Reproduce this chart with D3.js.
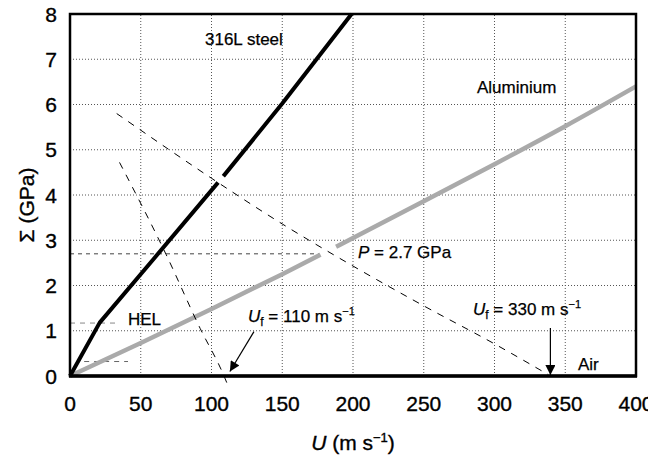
<!DOCTYPE html>
<html><head><meta charset="utf-8">
<script src="https://cdn.jsdelivr.net/npm/d3@7"></script>
<style>
html,body{margin:0;padding:0;background:#fff;}
svg{display:block;font-family:"Liberation Sans",Arial,Helvetica,sans-serif;}
</style></head>
<body>
<svg id="chart" width="648" height="455"></svg>
<script>
// ---- data ----
const uTicks = [0, 50, 100, 150, 200, 250, 300, 350, 400];
const sTicks = [0, 1, 2, 3, 4, 5, 6, 7, 8];

// 316L steel Hugoniot (elastic precursor to HEL, then plastic)
const steelU = [0, 21, 60, 108, 150, 199];
const steelS = [0, 1.18, 2.62, 4.4, 6.02, 8];

// Aluminium Hugoniot
const aluU = [0, 50, 100, 150, 200, 250, 300, 350, 400];
const aluS = [0, 0.73, 1.48, 2.25, 3.05, 3.86, 4.68, 5.52, 6.4];

// Reflected flyer Hugoniot, Uf = 330 m/s
const f330U = [33, 100, 150, 200, 250, 300, 338];
const f330S = [5.8, 4.37, 3.36, 2.43, 1.55, 0.71, 0.03];

// Reflected flyer Hugoniot, Uf = 110 m/s
const f110U = [35, 68, 92, 108, 111.5];
const f110S = [4.72, 2.68, 1.05, 0.06, -0.2];

// reference levels: [Σ, U start, U end]
const pLevel = [2.7, 0, 181];
const helLevel = [1.17, 0, 35];
const lowLevel = [0.32, 10, 41];

// white breaks in the solid lines where the dashed curves cross [U start, U end]
const steelBreak = [104.6, 108.4];
const aluBreak = [177, 188];

// arrows: [U from, Σ from, U to, Σ to]
const arrow110 = [130, 0.98, 113, 0.1];
const arrow330 = [339.5, 1.06, 339.5, 0.02];

// ---- layout ----
const W = 648, H = 455;
const m = {left: 70, right: 12, top: 14, bottom: 79};
const svg = d3.select("#chart");
const x = d3.scaleLinear().domain([0, 400]).range([m.left, W - m.right]);
const y = d3.scaleLinear().domain([0, 8]).range([H - m.bottom, m.top]);

const g = svg.append("g");

// grid
g.append("g").selectAll("line").data(uTicks.slice(1, -1)).join("line")
  .attr("x1", d => x(d)).attr("x2", d => x(d))
  .attr("y1", y(0)).attr("y2", y(8))
  .attr("stroke", "#555").attr("stroke-width", 1).attr("stroke-dasharray", "1,2");
g.append("g").selectAll("line").data(sTicks.slice(1, -1)).join("line")
  .attr("y1", d => y(d)).attr("y2", d => y(d))
  .attr("x1", x(0)).attr("x2", x(400))
  .attr("stroke", "#555").attr("stroke-width", 1).attr("stroke-dasharray", "1,2");

// reference dashed levels
function level(l, color, dash) {
  g.append("line")
    .attr("x1", x(l[1])).attr("x2", x(l[2]))
    .attr("y1", y(l[0])).attr("y2", y(l[0]))
    .attr("stroke", color).attr("stroke-width", 1).attr("stroke-dasharray", dash);
}
level(pLevel, "#444", "4,4");
level(helLevel, "#888", "5,5");
level(lowLevel, "#666", "5,5");

const line = d3.line().x(d => x(d[0])).y(d => y(d[1]));
const curve = d3.line().x(d => x(d[0])).y(d => y(d[1])).curve(d3.curveMonotoneX);

const steel = steelU.map((u, i) => [u, steelS[i]]);
const alu = aluU.map((u, i) => [u, aluS[i]]);
const f330 = f330U.map((u, i) => [u, f330S[i]]);
const f110 = f110U.map((u, i) => [u, f110S[i]]);

g.append("path").attr("d", curve(alu)).attr("fill", "none")
  .attr("stroke", "#aaaaaa").attr("stroke-width", 4.5);
g.append("path").attr("d", line(steel)).attr("fill", "none")
  .attr("stroke", "#000").attr("stroke-width", 4).attr("stroke-linejoin", "round");

// breaks
function interp(U, S, u) { return d3.scaleLinear().domain(U).range(S)(u); }
function brk(U, S, b, w) {
  const pts = [[b[0], interp(U, S, b[0])], [b[1], interp(U, S, b[1])]];
  g.append("path").attr("d", line(pts)).attr("stroke", "#fff").attr("stroke-width", w).attr("fill", "none");
}
brk(steelU, steelS, steelBreak, 7);
brk(aluU, aluS, aluBreak, 7);

// dashed flyer curves
g.append("path").attr("d", curve(f330)).attr("fill", "none")
  .attr("stroke", "#000").attr("stroke-width", 1).attr("stroke-dasharray", "7,7");
g.append("path").attr("d", curve(f110)).attr("fill", "none")
  .attr("stroke", "#000").attr("stroke-width", 1).attr("stroke-dasharray", "7,7");

// arrows
const defs = svg.append("defs");
defs.append("marker").attr("id", "ah").attr("viewBox", "0 0 10 10")
  .attr("refX", 10).attr("refY", 5).attr("markerWidth", 11).attr("markerHeight", 10)
  .attr("markerUnits", "userSpaceOnUse").attr("orient", "auto")
  .append("path").attr("d", "M0,0 L10,5 L0,10 Z").attr("fill", "#000");
[arrow110, arrow330].forEach(a => {
  g.append("line").attr("x1", x(a[0])).attr("y1", y(a[1]))
    .attr("x2", x(a[2])).attr("y2", y(a[3]))
    .attr("stroke", "#000").attr("stroke-width", 1.2).attr("marker-end", "url(#ah)");
});

// frame
g.append("rect").attr("x", x(0)).attr("y", y(8))
  .attr("width", x(400) - x(0)).attr("height", y(0) - y(8))
  .attr("fill", "none").attr("stroke", "#000").attr("stroke-width", 2.5);
g.append("line").attr("x1", x(0) - 1).attr("x2", x(400) + 1)
  .attr("y1", y(0)).attr("y2", y(0)).attr("stroke", "#000").attr("stroke-width", 3.5);

// tick labels
const heavy = s => s.attr("stroke", "#000").attr("stroke-width", 0.35);
heavy(svg.append("g").selectAll("text").data(uTicks).join("text")
  .attr("x", d => x(d)).attr("y", 411).attr("text-anchor", "middle")
  .attr("font-size", 21).text(d => d));
heavy(svg.append("g").selectAll("text").data(sTicks).join("text")
  .attr("x", 57).attr("y", d => y(d) + 7.5).attr("text-anchor", "end")
  .attr("font-size", 21).text(d => d));

// axis titles
const xt = svg.append("text").attr("x", (x(0) + x(400)) / 2).attr("y", 450)
  .attr("text-anchor", "middle").attr("font-size", 21);
heavy(xt);
xt.append("tspan").attr("font-style", "italic").text("U");
xt.append("tspan").text(" (m s");
xt.append("tspan").attr("font-size", 13).attr("dy", -8).text("−1");
xt.append("tspan").attr("dy", 8).text(")");

heavy(svg.append("text").attr("transform", `translate(34,${(y(0) + y(8)) / 2 + 10}) rotate(-90)`)
  .attr("text-anchor", "middle").attr("font-size", 21).text("Σ (GPa)"));

// in-plot labels
function lab(xp, yp, parts) {
  const t = svg.append("text").attr("x", xp).attr("y", yp).attr("font-size", 17)
    .attr("stroke", "#000").attr("stroke-width", 0.25);
  parts.forEach(p => {
    const s = t.append("tspan").text(p.t);
    if (p.i) s.attr("font-style", "italic");
    if (p.sub) s.attr("font-size", 12).attr("dy", 4);
    if (p.sup) s.attr("font-size", 11).attr("dy", -7);
    if (p.dy) s.attr("dy", p.dy);
  });
  return t;
}
lab(205, 45, [{t: "316L steel"}]);
lab(477, 93, [{t: "Aluminium"}]);
lab(128, 325, [{t: "HEL"}]);
lab(358, 258, [{t: "P", i: 1}, {t: " = 2.7 GPa"}]);
lab(248, 322, [{t: "U", i: 1}, {t: "f", sub: 1}, {t: " = 110 m s", dy: -4}, {t: "−1", sup: 1}]);
lab(473, 315, [{t: "U", i: 1}, {t: "f", sub: 1}, {t: " = 330 m s", dy: -4}, {t: "−1", sup: 1}]);
lab(578, 370, [{t: "Air"}]);
</script>
</body></html>
